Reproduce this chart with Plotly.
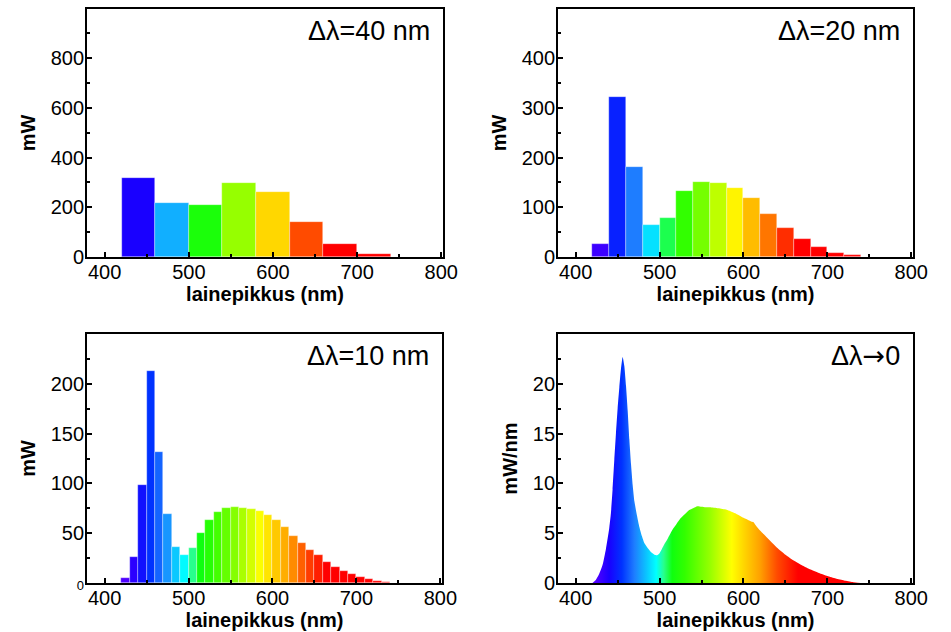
import plotly.graph_objects as go

# ---------------- data ----------------
# Δλ = 40 nm bins
bins40_lo = [420, 460, 500, 540, 580, 620, 660, 700]
mw40 = [317, 218, 209, 299, 260, 141, 52, 13]

# Δλ = 20 nm bins
bins20_lo = [420, 440, 460, 480, 500, 520, 540, 560, 580, 600, 620, 640, 660, 680, 700, 720]
mw20 = [27, 321, 181, 64, 78, 132, 151, 149, 139, 118, 86, 58, 36, 20, 8, 4]

# Δλ = 10 nm bins
bins10_lo = [420, 430, 440, 450, 460, 470, 480, 490, 500, 510, 520, 530, 540, 550, 560, 570,
             580, 590, 600, 610, 620, 630, 640, 650, 660, 670, 680, 690, 700, 710, 720, 730]
mw10 = [5, 26, 98, 213, 132, 69, 36, 28, 35, 50, 63, 71, 75, 76, 75.5, 74.5,
        72, 68.5, 63, 56, 47, 40, 33, 28, 21, 16, 12, 9, 6, 4, 2, 1]

# continuous spectrum (mW/nm)
wl = [420, 424, 428, 432, 436, 440, 442, 444, 446, 448, 450, 452, 454, 456, 458, 460, 462,
      464, 466, 468, 470, 473, 476, 479, 482, 486, 490, 494, 497, 500, 505, 510, 515, 520,
      525, 530, 535, 540, 545, 550, 555, 560, 570, 580, 590, 600, 605, 610, 612, 615, 620,
      630, 640, 650, 660, 670, 680, 690, 700, 710, 720, 730, 740]
spd = [0.0, 0.3, 0.9, 1.8, 3.4, 5.5, 7.0, 9.4, 12.3, 15.0, 17.5, 19.6, 21.5, 22.7, 21.8, 19.8, 17.3,
       14.4, 11.9, 9.8, 8.2, 6.8, 5.6, 4.7, 4.0, 3.5, 3.1, 2.85, 2.8, 3.0, 3.8, 4.5, 5.3, 5.9,
       6.5, 6.9, 7.3, 7.5, 7.7, 7.65, 7.6, 7.6, 7.5, 7.35, 7.0, 6.55, 6.35, 6.15, 6.1, 5.75, 5.25,
       4.4, 3.55, 2.85, 2.25, 1.75, 1.35, 1.0, 0.7, 0.45, 0.25, 0.1, 0.0]

titles = ["Δλ=40 nm", "Δλ=20 nm", "Δλ=10 nm",
          'Δλ<span style="font-family:DejaVu Sans">→</span>0']

# ---------------- style ----------------
WL_MIN, WL_MAX = 420, 740
stops = [(420, "rgb(95,0,255)"), (440, "rgb(25,0,255)"), (455, "rgb(0,50,255)"),
         (470, "rgb(30,125,255)"), (485, "rgb(10,200,255)"), (496, "rgb(0,255,255)"),
         (505, "rgb(40,255,140)"), (515, "rgb(15,255,15)"), (530, "rgb(50,255,0)"),
         (560, "rgb(150,255,0)"), (586, "rgb(255,255,0)"), (600, "rgb(255,215,0)"),
         (620, "rgb(255,160,0)"), (640, "rgb(255,75,0)"), (665, "rgb(255,0,0)"),
         (740, "rgb(255,0,0)")]
cscale = [[(w - WL_MIN) / (WL_MAX - WL_MIN), c] for w, c in stops]

FONT = "Liberation Sans, Arial, sans-serif"
fig = go.Figure()


def add_bars(lo, vals, width, ax):
    centers = [v + width / 2 for v in lo]
    fig.add_trace(go.Bar(
        x=centers, y=vals, width=[width] * len(lo),
        marker=dict(color=centers, colorscale=cscale, cmin=WL_MIN, cmax=WL_MAX,
                    showscale=False,
                    line=dict(width=0.6, color="rgba(255,255,255,0.55)")),
        xaxis="x" + ax, yaxis="y" + ax, showlegend=False, hoverinfo="x+y"))


add_bars(bins40_lo, mw40, 40, "")
add_bars(bins20_lo, mw20, 20, "2")
add_bars(bins10_lo, mw10, 10, "3")

fig.add_trace(go.Scatter(
    x=wl, y=spd, mode="lines", fill="tozeroy",
    line=dict(width=0, shape="spline", smoothing=0.5, color="rgba(0,0,0,0)"),
    fillgradient=dict(type="horizontal", colorscale=cscale, start=WL_MIN, stop=WL_MAX),
    xaxis="x4", yaxis="y4", showlegend=False))

xdoms = [[0.0915, 0.4658], [0.5868, 0.9600], [0.0915, 0.4648], [0.5868, 0.9600]]
ydoms = [[0.5934, 0.9858], [0.5934, 0.9858], [0.0775, 0.4715], [0.0775, 0.4715]]
yranges = [[0, 998], [0, 499], [0, 250], [0, 25]]
ytickv = [[0, 200, 400, 600, 800], [0, 100, 200, 300, 400], [0, 50, 100, 150, 200],
          [0, 5, 10, 15, 20]]
yminor = [100, 50, 25, 2.5]
ytitles = ["mW", "mW", "mW", "mW/nm"]

common = dict(showline=True, linecolor="black", linewidth=2, mirror=True,
              ticks="inside", ticklen=5, tickwidth=2, tickcolor="black",
              showgrid=False, zeroline=False, automargin=False,
              tickfont=dict(family=FONT, size=20, color="black"))

layout = {}
for i in range(4):
    s = "" if i == 0 else str(i + 1)
    ytext = [str(v) for v in ytickv[i]]
    if i == 2:
        ytext[0] = '<span style="font-size:13px">0</span>'
    layout["xaxis" + s] = dict(
        domain=xdoms[i], anchor="y" + s, range=[379, 802],
        tickvals=[400, 500, 600, 700, 800], ticklabelstandoff=-4,
        minor=dict(dtick=50, tick0=0, ticks="inside", ticklen=3, tickwidth=2, tickcolor="black"),
        title=dict(text="<b>lainepikkus (nm)</b>", standoff=0,
                   font=dict(family=FONT, size=20, color="black")),
        **common)
    layout["yaxis" + s] = dict(
        domain=ydoms[i], anchor="x" + s, range=yranges[i],
        tickvals=ytickv[i], ticktext=ytext, ticklabelstandoff=-3,
        minor=dict(dtick=yminor[i], tick0=0, ticks="inside", ticklen=3, tickwidth=2,
                   tickcolor="black"),
        title=dict(text="<b>" + ytitles[i] + "</b>", standoff=10,
                   font=dict(family=FONT, size=20, color="black")),
        **common)

annotations = []
for i, t in enumerate(titles):
    s = "" if i == 0 else str(i + 1)
    annotations.append(dict(
        text=t, xref="x" + s + " domain", yref="y" + s + " domain",
        x=0.968, y=0.912, xanchor="right", yanchor="middle", showarrow=False,
        font=dict(family=FONT, size=27, color="black")))

fig.update_layout(
    template="none",
    width=951, height=632, margin=dict(l=0, r=0, t=0, b=0, autoexpand=False),
    paper_bgcolor="white", plot_bgcolor="white",
    annotations=annotations, bargap=0, barmode="overlay",
    font=dict(family=FONT, color="black"),
    **layout)

fig.write_html(
    "out.html",
    config={"displayModeBar": False},
    post_script="document.body.style.margin='0';document.body.style.overflow='hidden';")
